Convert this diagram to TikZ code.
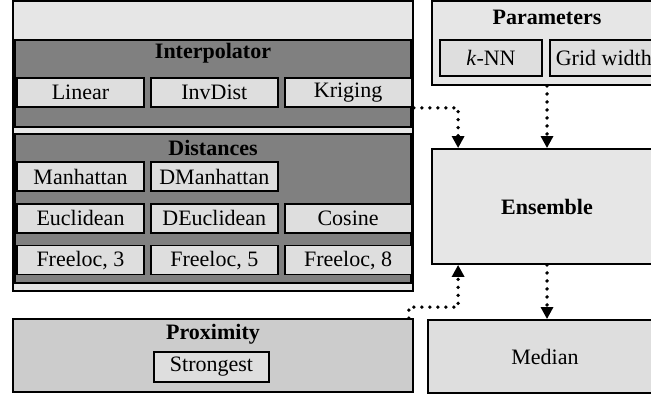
\documentclass[tikz,border=0pt]{standalone}
\usepackage{fontspec}
\setmainfont{Liberation Serif}
\usetikzlibrary{positioning, arrows.meta}
\definecolor{boxlt}{RGB}{230,230,230}
\definecolor{boxdk}{RGB}{128,128,128}
\definecolor{boxmd}{RGB}{204,204,204}
\definecolor{itemgray}{RGB}{222,222,222}
\tikzset{
  grp/.style={
    draw, rectangle, line width=0.9pt,
    inner sep=0pt
  },
  itm/.style={
    draw, rectangle, line width=0.9pt,
    minimum width=63.5pt, minimum height=14.5pt,
    fill=itemgray, font=\fontsize{11}{13}\selectfont,
    inner sep=0pt, align=center
  },
  ttl/.style={font=\fontsize{11}{13}\selectfont\bfseries, inner sep=0pt},
  dotarr/.style={
    line width=1.9pt, line cap=round, dash pattern=on 0pt off 4pt,
    -{Triangle[width=6pt,length=6pt]}
  },
}
\begin{document}
\begin{tikzpicture}
    \useasboundingbox (0,0) rectangle (325.5pt,197pt);
    \node[grp, fill=boxlt, minimum width=200pt, minimum height=145pt] (frame) at (106.5pt,124pt) {};
    \node[grp, fill=boxdk, minimum width=198pt, minimum height=43.5pt] (interp) at (106.5pt,155.25pt) {};
    \node[grp, fill=boxdk, minimum width=198pt, minimum height=74.5pt] (dist) at (106.5pt,92.75pt) {};
    \node[grp, fill=boxmd, minimum width=200pt, minimum height=36.5pt] (prox) at (106.5pt,19.25pt) {};
    \node[grp, fill=boxlt, minimum width=115pt, minimum height=42pt] (params) at (273.5pt,175.5pt) {};
    \node[grp, fill=boxlt, minimum width=115pt, minimum height=57.5pt, font=\fontsize{11}{13}\selectfont\bfseries] (ens) at (273.5pt,93.75pt) {Ensemble};
    \node[grp, fill=itemgray, minimum width=117pt, minimum height=36.5pt, font=\fontsize{11}{13}\selectfont] (median) at (272.5pt,18.75pt) {Median};

    \node[ttl] (interpT) at (106.5pt,170.5pt) {Interpolator};
    \node[itm] (linear) at (40.25pt,150.75pt) {Linear};
    \node[itm, right=2.5pt of linear]  (invdist) {InvDist};
    \node[itm, right=2.5pt of invdist] (kriging) {Kriging};

    \node[ttl] (distT) at (106.5pt,123pt) {Distances};
    \node[itm] (manh) at (40.25pt,108.75pt) {Manhattan};
    \node[itm, right=2.5pt of manh]  (dmanh) {DManhattan};
    \node[itm, below=5.5pt of manh]  (eucl)  {Euclidean};
    \node[itm, right=2.5pt of eucl]  (deucl) {DEuclidean};
    \node[itm, right=2.5pt of deucl] (cosine) {Cosine};
    \node[itm, below=5.5pt of eucl]  (free3) {Freeloc, 3};
    \node[itm, right=2.5pt of free3] (free5) {Freeloc, 5};
    \node[itm, right=2.5pt of free5] (free8) {Freeloc, 8};

    \node[ttl] (proxT) at (106.5pt,30pt) {Proximity};
    \node[itm, minimum width=57.5pt, minimum height=15pt] (strong) at (105.75pt,13.5pt) {Strongest};

    \node[ttl] (paramsT) at (273.5pt,188.5pt) {Parameters};
    \node[itm, minimum width=51pt, minimum height=18pt] (knn) at (245.5pt,168pt) {\textit{k}-NN};
    \node[itm, minimum width=54pt, minimum height=18pt, right=3pt of knn] (gridw) {Grid width};

    \coordinate (krigout) at (frame.east |- kriging.south);
    \coordinate (ensin) at ([xshift=13.5pt]ens.north west);
    \coordinate (ensup) at ([xshift=13.5pt]ens.south west);
    \coordinate (proxout) at ([xshift=-2.5pt]prox.north east);
    \draw[dotarr] (krigout) -| (ensin);
    \draw[dotarr] (params.south) -- (ens.north);
    \draw[dotarr] (ens.south) -- (ens.south |- median.north);
    \draw[dotarr] (proxout) -- ++(0,5.5pt) -| (ensup);
  \end{tikzpicture}
\end{document}
